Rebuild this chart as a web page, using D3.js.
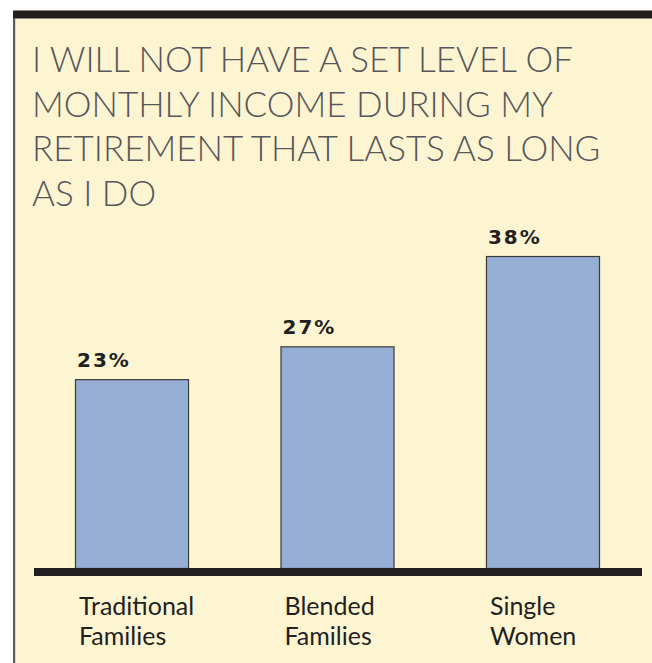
<!DOCTYPE html>
<html>
<head>
<meta charset="utf-8">
<script src="https://cdn.jsdelivr.net/npm/d3@7"></script>
<style>
  html, body { margin: 0; padding: 0; background: #ffffff; }
  svg { display: block; }
</style>
</head>
<body>
<div id="chart"></div>
<script>
// Chart content
const titleLines = [
  "I WILL NOT HAVE A SET LEVEL OF",
  "MONTHLY INCOME DURING MY",
  "RETIREMENT THAT LASTS AS LONG",
  "AS I DO"
];
const categories = ["Traditional Families", "Blended Families", "Single Women"];
const categoryLines = [["Traditional", "Families"], ["Blended", "Families"], ["Single", "Women"]];
const values = [23, 27, 38];
const valueLabels = ["23%", "27%", "38%"];

const W = 652, H = 663;
const svg = d3.select("#chart").append("svg")
  .attr("width", W).attr("height", H);

// Panel: cream card with dark top rule and grey left edge
svg.append("rect").attr("x", 14).attr("y", 10).attr("width", W - 14).attr("height", H - 10)
  .attr("fill", "#fdf5d2");
svg.append("rect").attr("x", 13).attr("y", 10.5).attr("width", W - 13).attr("height", 8)
  .attr("fill", "#231f20");
svg.append("rect").attr("x", 13).attr("y", 18).attr("width", 2.2).attr("height", H - 18)
  .attr("fill", "#5a5a5a");

// Title
const title = svg.append("text")
  .attr("font-family", "Lato, 'Open Sans', sans-serif")
  .attr("font-weight", 300)
  .attr("font-size", 35)
  .attr("fill", "#55575a");
titleLines.forEach((t, i) => {
  title.append("tspan").attr("x", 32).attr("y", 72 + i * 44.6).text(t);
});

// Scales
const baseY = 568;
const x = d3.scaleBand().domain(categories).range([75, 600]).paddingInner(0.445).paddingOuter(0);
const y = d3.scaleLinear().domain([0, 40]).range([baseY, baseY - 328.4]);

const data = categories.map((c, i) => ({ c, v: values[i], label: valueLabels[i], lines: categoryLines[i] }));

// Bars
svg.selectAll("rect.bar").data(data).join("rect")
  .attr("class", "bar")
  .attr("x", d => x(d.c) + 0.5)
  .attr("y", d => y(d.v) + 0.5)
  .attr("width", x.bandwidth() - 1)
  .attr("height", d => baseY - y(d.v))
  .attr("fill", "#97aed4")
  .attr("stroke", "#3b3a3a")
  .attr("stroke-width", 1.2);

// Value labels
svg.selectAll("text.val").data(data).join("text")
  .attr("class", "val")
  .attr("x", d => x(d.c) + 2)
  .attr("y", d => y(d.v) - 12)
  .attr("font-family", "'DejaVu Sans', sans-serif")
  .attr("font-weight", "bold")
  .attr("font-size", 20)
  .attr("letter-spacing", 2)
  .attr("fill", "#231f20")
  .text(d => d.label);

// Baseline
svg.append("rect").attr("x", 34).attr("y", baseY).attr("width", 642 - 34).attr("height", 8)
  .attr("fill", "#231f20");

// Category labels
const cat = svg.selectAll("text.cat").data(data).join("text")
  .attr("class", "cat")
  .attr("font-family", "Lato, 'Open Sans', sans-serif")
  .attr("font-size", 25)
  .attr("fill", "#231f20");
cat.each(function(d) {
  const t = d3.select(this);
  d.lines.forEach((ln, i) => {
    t.append("tspan").attr("x", x(d.c) + 4).attr("y", 615 + i * 30).text(ln);
  });
});
</script>
</body>
</html>
